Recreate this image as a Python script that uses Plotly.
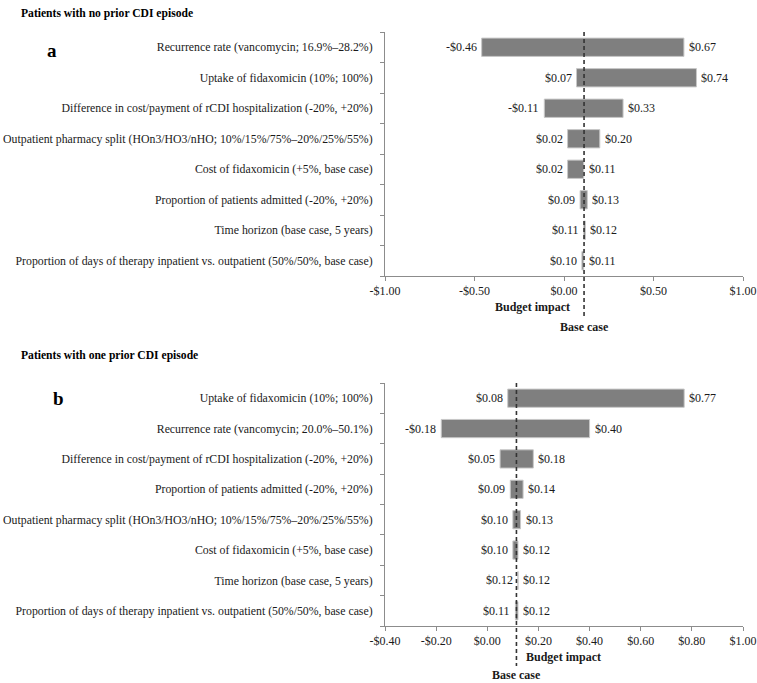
import plotly.graph_objects as go

# ---------------- data ----------------
params_a = [
    "Recurrence rate (vancomycin; 16.9%–28.2%)",
    "Uptake of fidaxomicin (10%; 100%)",
    "Difference in cost/payment of rCDI hospitalization (-20%, +20%)",
    "Outpatient pharmacy split (HOn3/HO3/nHO; 10%/15%/75%–20%/25%/55%)",
    "Cost of fidaxomicin (+5%, base case)",
    "Proportion of patients admitted (-20%, +20%)",
    "Time horizon (base case, 5 years)",
    "Proportion of days of therapy inpatient vs. outpatient (50%/50%, base case)",
]
low_a = [-0.46, 0.07, -0.11, 0.02, 0.02, 0.09, 0.11, 0.10]
high_a = [0.67, 0.74, 0.33, 0.20, 0.11, 0.13, 0.12, 0.11]
base_a = 0.112

params_b = [
    "Uptake of fidaxomicin (10%; 100%)",
    "Recurrence rate (vancomycin; 20.0%–50.1%)",
    "Difference in cost/payment of rCDI hospitalization (-20%, +20%)",
    "Proportion of patients admitted (-20%, +20%)",
    "Outpatient pharmacy split (HOn3/HO3/nHO; 10%/15%/75%–20%/25%/55%)",
    "Cost of fidaxomicin (+5%, base case)",
    "Time horizon (base case, 5 years)",
    "Proportion of days of therapy inpatient vs. outpatient (50%/50%, base case)",
]
low_b = [0.08, -0.18, 0.05, 0.09, 0.10, 0.10, 0.12, 0.11]
high_b = [0.77, 0.40, 0.18, 0.14, 0.13, 0.12, 0.12, 0.12]
base_b = 0.114

xticks_a = [-1.0, -0.5, 0.0, 0.5, 1.0]
xticktext_a = ["-$1.00", "-$0.50", "$0.00", "$0.50", "$1.00"]
xticks_b = [-0.4, -0.2, 0.0, 0.2, 0.4, 0.6, 0.8, 1.0]
xticktext_b = ["-$0.40", "-$0.20", "$0.00", "$0.20", "$0.40", "$0.60", "$0.80", "$1.00"]

title_a = "Patients with no prior CDI episode"
title_b = "Patients with one prior CDI episode"

# ---------------- layout helpers ----------------
W, H = 757, 683
FONT = "Liberation Serif"
TXT = "#1a1a1a"
AX = "#8c8c8c"
BAR = "#7f7f7f"


def px_x(p):
    return p / W


def px_y(p):
    return 1 - p / H


fig = go.Figure()


def money(v):
    return ("-$%.2f" % abs(v)) if v < 0 else ("$%.2f" % v)


def add_panel(params, low, high, base, xname, yname, top, bottom,
              xr, xticks, xtext, label, lab_pos, title, title_y, bi_x, bi_y, bc_y, line_end):
    n = len(params)
    pos = list(range(n))
    fig.add_trace(go.Bar(
        y=pos, x=[h - l for l, h in zip(low, high)], base=low,
        orientation="h", width=0.6,
        marker=dict(color=BAR, line=dict(color="#c8c8c8", width=1)),
        xaxis=xname, yaxis=yname, showlegend=False, hoverinfo="skip",
    ))
    for i in range(n):
        fig.add_annotation(x=low[i], y=i, xref=xname, yref=yname, text=money(low[i]),
                           showarrow=False, xanchor="right", yanchor="middle", xshift=-3,
                           font=dict(family=FONT, size=12, color=TXT))
        fig.add_annotation(x=high[i], y=i, xref=xname, yref=yname, text=money(high[i]),
                           showarrow=False, xanchor="left", yanchor="middle", xshift=3,
                           font=dict(family=FONT, size=12, color=TXT))
    # base case dashed line
    fig.add_shape(type="line", xref=xname, yref="paper", x0=base, x1=base,
                  y0=px_y(top), y1=px_y(line_end),
                  line=dict(color="#333333", width=1.6, dash="4px,3px"))
    fig.add_annotation(x=base, y=px_y(bc_y), xref=xname, yref="paper", text="<b>Base case</b>",
                       showarrow=False, xanchor="center", yanchor="middle",
                       font=dict(family=FONT, size=12, color=TXT))
    fig.add_annotation(x=px_x(bi_x), y=px_y(bi_y), xref="paper", yref="paper",
                       text="<b>Budget impact</b>", showarrow=False,
                       xanchor="center", yanchor="middle",
                       font=dict(family=FONT, size=12, color=TXT))
    fig.add_annotation(x=px_x(lab_pos[0]), y=px_y(lab_pos[1]), xref="paper", yref="paper",
                       text="<b>%s</b>" % label, showarrow=False,
                       xanchor="center", yanchor="middle",
                       font=dict(family=FONT, size=19, color="#000"))
    fig.add_annotation(x=px_x(19), y=px_y(title_y), xref="paper", yref="paper",
                       text="<b>%s</b>" % title, showarrow=False, xanchor="left",
                       yanchor="middle",
                       font=dict(family=FONT, size=11.6, color="#000"))
    xa = dict(domain=[px_x(385), px_x(743)], range=xr, anchor=yname,
              tickvals=xticks, ticktext=xtext, ticks="outside", ticklen=4,
              tickcolor=AX, showline=True, linecolor=AX, linewidth=1,
              showgrid=False, zeroline=False, automargin=False,
              tickfont=dict(family=FONT, size=12, color=TXT))
    ya = dict(domain=[px_y(bottom), px_y(top)], range=[n - 0.5, -0.5],
              anchor=xname, tickvals=pos, ticktext=params, ticks="",
              minor=dict(tick0=-0.5, dtick=1, ticks="outside", ticklen=4, tickcolor=AX),
              showline=True, linecolor=AX, linewidth=1, showgrid=False,
              zeroline=False, ticklabelstandoff=9, automargin=False,
              tickfont=dict(family=FONT, size=11.8, color=TXT))
    return xa, ya


xa1, ya1 = add_panel(params_a, low_a, high_a, base_a, "x", "y", 32, 276,
                     [-1.0, 1.0], xticks_a, xticktext_a, "a", (52, 51),
                     title_a, 14, 532, 307, 327, 318)
xa2, ya2 = add_panel(params_b, low_b, high_b, base_b, "x2", "y2", 383, 626,
                     [-0.4, 1.0], xticks_b, xticktext_b, "b", (58, 398),
                     title_b, 355, 563, 657, 675, 666)

fig.update_layout(
    width=W, height=H, margin=dict(l=0, r=0, t=0, b=0, autoexpand=False),
    paper_bgcolor="white", plot_bgcolor="white",
    xaxis=xa1, yaxis=ya1, xaxis2=xa2, yaxis2=ya2,
    font=dict(family=FONT, size=12, color=TXT),
    showlegend=False,
)

fig.write_html("out.html", config={"displayModeBar": False},
               post_script="document.body.style.margin='0';")
